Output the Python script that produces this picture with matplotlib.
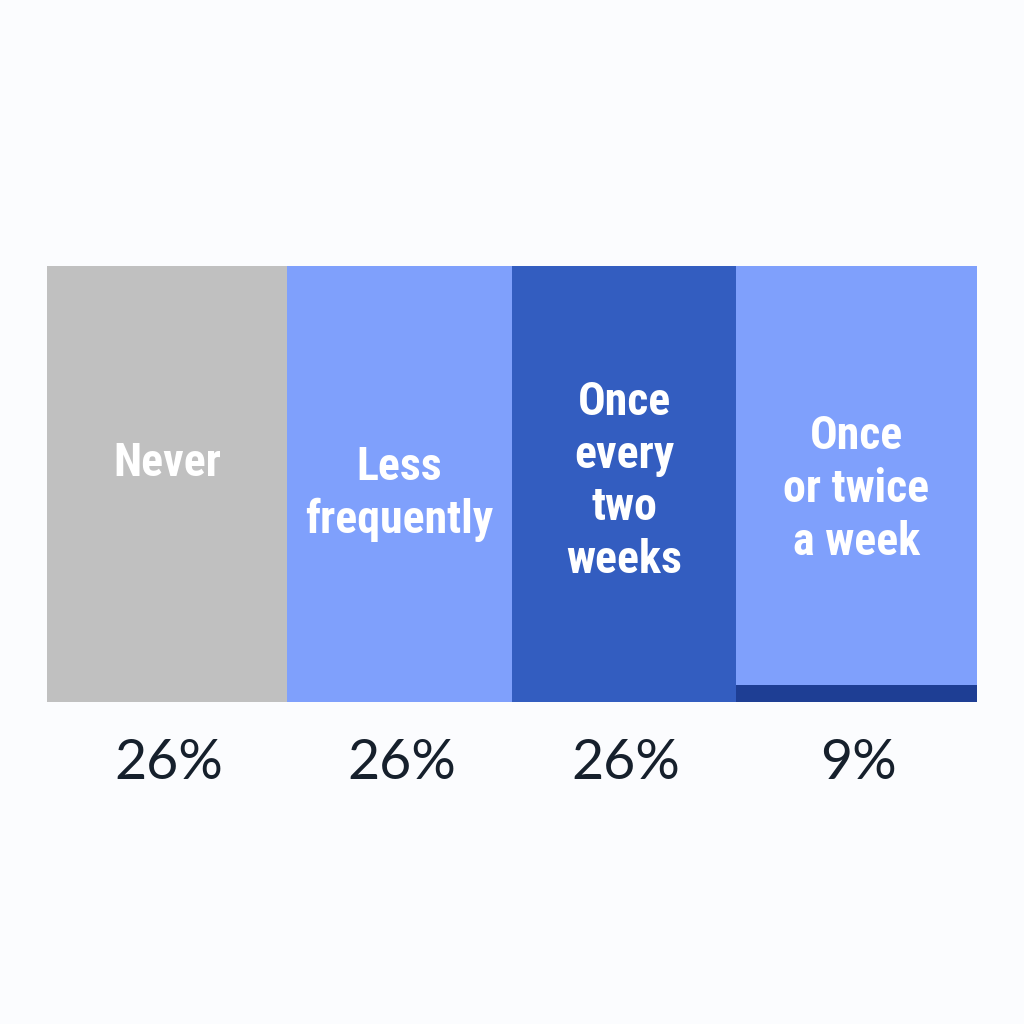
import numpy as np
import matplotlib.pyplot as plt
from matplotlib import font_manager

# data
labels = ["Never", "Less\nfrequently", "Once\nevery\ntwo\nweeks", "Once\nor twice\na week"]
shares = [26, 26, 26, 9]
widths = [240, 225, 224, 241]          # column widths as drawn
base_part = [0, 0, 0, 0.04]            # small dark segment at the bottom
colors = ["#c0c0c0", "#7fa0fc", "#335dc0", "#7fa0fc"]
base_color = "#1e3e94"
label_y = [0.548, 0.478, 0.507, 0.489]

fonts = font_manager.fontManager.ttflist
names = {f.name for f in fonts}
condensed = [f for f in fonts if f.name == "DejaVu Sans" and f.stretch == "condensed"]

label_kw = dict(family="DejaVu Sans", fontsize=26)
for cand in ["Roboto Condensed", "Liberation Sans Narrow", "Open Sans Condensed"]:
    if cand in names:
        label_kw = dict(family=cand, fontsize=33)
        break
else:
    if condensed:
        label_kw = dict(family="DejaVu Sans", stretch="condensed", fontsize=29)
num_font = "Lato" if "Lato" in names else "DejaVu Sans"

bg = "#fbfcfe"
fig = plt.figure(figsize=(10.24, 10.24), dpi=100, facecolor=bg)
total = sum(widths)
ax = fig.add_axes([47 / 1024, (1024 - 702) / 1024, total / 1024, 436 / 1024])
ax.set_facecolor(bg)

lefts = np.concatenate([[0], np.cumsum(widths)[:-1]])
centers = lefts + np.array(widths) / 2
base = np.array(base_part)

ax.bar(lefts, base, width=widths, align="edge", color=base_color, linewidth=0)
ax.bar(lefts, 1 - base, bottom=base, width=widths, align="edge", color=colors, linewidth=0)

for x, lab, y in zip(centers, labels, label_y):
    ax.text(x, y, lab, ha="center", va="center", color="white",
            fontweight="bold", linespacing=1.25, **label_kw)

for x, s in zip(centers, shares):
    ax.text(x + 2, -0.142, f"{s}%", ha="center", va="center", color="#16202c",
            fontsize=40, family=num_font, clip_on=False)

ax.set_xlim(0, total)
ax.set_ylim(0, 1)
ax.axis("off")

fig.savefig("out.png", dpi=100, facecolor=bg)
